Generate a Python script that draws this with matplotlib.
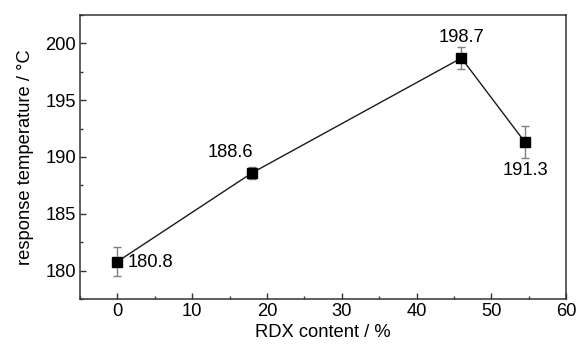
import matplotlib
matplotlib.use("Agg")
import matplotlib.pyplot as plt
from matplotlib.ticker import MultipleLocator

plt.rcParams['font.family'] = ['Liberation Sans', 'DejaVu Sans']

rdx = [0, 18, 46, 54.5]
temp = [180.8, 188.6, 198.7, 191.3]
err = [1.3, 0.5, 0.95, 1.4]
labels = ["180.8", "188.6", "198.7", "191.3"]
offsets = [(10, -1), (-22, 20), (0, 21), (0, -28)]
aligns = [("left", "center"), ("center", "center"), ("center", "center"), ("center", "center")]

FS = 13.2

fig = plt.figure(figsize=(5.8, 3.45), dpi=100)
ax = fig.add_axes([0.138, 0.133, 0.838, 0.824])

ax.errorbar(rdx, temp, yerr=err, fmt='none', ecolor='#808080', elinewidth=1,
            capsize=3, capthick=1, zorder=2)
ax.plot(rdx, temp, color='#1a1a1a', lw=1.0, marker='s', ms=6.5, mfc='black',
        mec='black', zorder=3)

for x, y, t, off, (ha, va) in zip(rdx, temp, labels, offsets, aligns):
    ax.annotate(t, (x, y), xytext=off, textcoords='offset pixels',
                ha=ha, va=va, fontsize=FS)

ax.set_xlim(-5, 60)
ax.set_ylim(177.5, 202.5)
ax.xaxis.set_major_locator(MultipleLocator(10))
ax.xaxis.set_minor_locator(MultipleLocator(5))
ax.yaxis.set_major_locator(MultipleLocator(5))
ax.yaxis.set_minor_locator(MultipleLocator(2.5))
ax.tick_params(which='both', direction='in', labelsize=FS, color='#333333', pad=3)
ax.tick_params(which='major', length=4, width=1)
ax.tick_params(which='minor', length=2.5, width=1)
for s in ax.spines.values():
    s.set_linewidth(1.1)
    s.set_color('#333333')

ax.set_xlabel("RDX content / %", fontsize=FS, labelpad=3)
ax.set_ylabel("response temperature / °C", fontsize=FS, labelpad=8)

fig.savefig("out.png", dpi=100)
